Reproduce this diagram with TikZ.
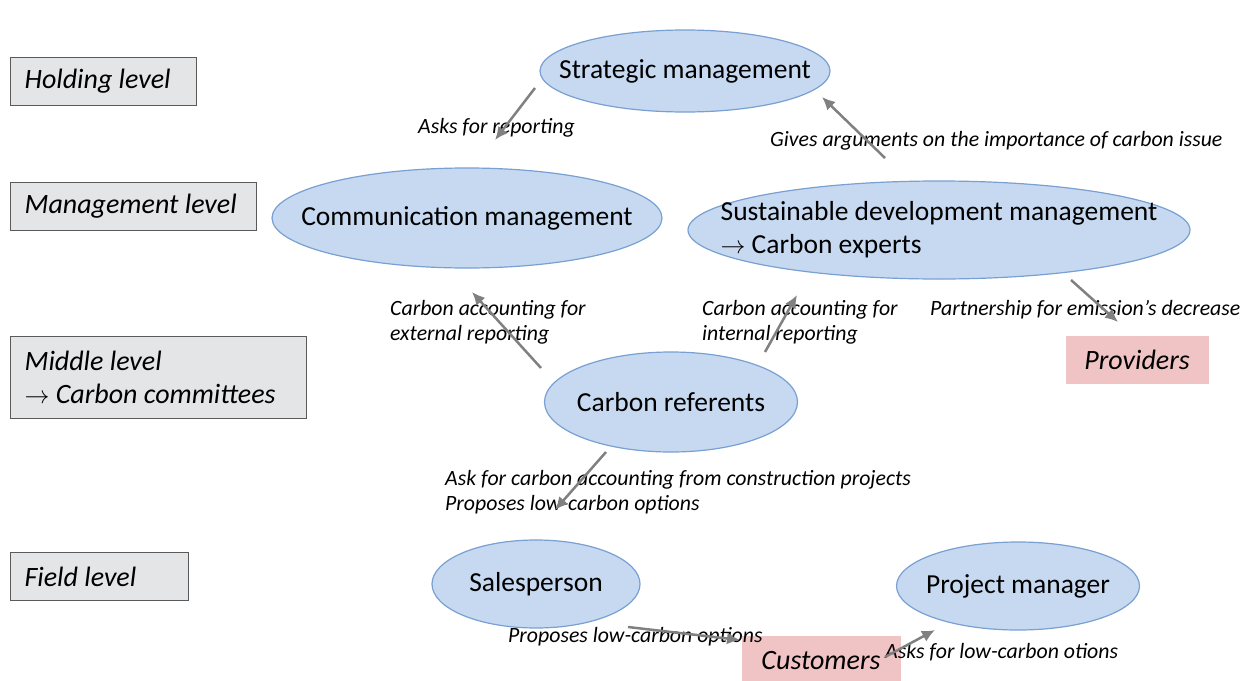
\documentclass[tikz,border=0pt]{standalone}
\usepackage{fontspec}
\setmainfont{Carlito}
\usetikzlibrary{shapes.geometric,arrows.meta}
\definecolor{ellfill}{RGB}{198,217,240}
\definecolor{elldraw}{RGB}{120,160,210}
\definecolor{levfill}{RGB}{228,229,230}
\definecolor{levdraw}{RGB}{90,90,90}
\definecolor{pinkfill}{RGB}{240,196,196}
\definecolor{arrowgray}{RGB}{128,128,128}
\begin{document}
\begin{tikzpicture}[x=1pt,y=-1pt,
    ell/.style={ellipse,draw=elldraw,fill=ellfill,line width=1.2pt,inner sep=0pt,
      label={[align=left,inner sep=0pt,font=\fontsize{27.5}{33}\selectfont]center:#1}},
    level/.style={rectangle,draw=levdraw,fill=levfill,line width=1.2pt,anchor=north west,inner xsep=14pt,inner ysep=0pt,align=left,
      execute at begin node={\spaceskip=0pt\xspaceskip=0pt},font=\fontsize{28}{33}\selectfont\itshape},
    actor/.style={rectangle,fill=pinkfill,inner sep=0pt,font=\fontsize{28}{33}\selectfont\itshape},
    lab/.style={anchor=west,inner sep=0pt,align=left,font=\fontsize{21.8}{25}\selectfont\itshape},
    flow/.style={draw=arrowgray,line width=2.5pt,-{Latex[length=13pt,width=12pt]}}]
    \useasboundingbox (0,0) rectangle (1249,680);

    % Levels
    \node[level,text width=158pt,minimum height=48pt] (hold) at (10,57) {Holding level};
    \node[level,text width=218pt,minimum height=48pt] (mgmt) at (10,182) {Management level};
    \node[level,text width=268pt,minimum height=82pt] (mid) at (10,336) {Middle level\\$\rightarrow$ Carbon committees};
    \node[level,text width=150pt,minimum height=48pt] (field) at (10,552) {Field level};

    % Actors
    \node[ell={Strategic management},minimum width=290pt,minimum height=82pt] (strat) at (685,71) {};
    \node[ell={Communication management},minimum width=390pt,minimum height=100pt] (comm) at (467,218) {};
    \node[ell={Sustainable development management\\$\rightarrow$ Carbon experts},minimum width=502pt,minimum height=98pt] (sust) at (939,230) {};
    \node[ell={Carbon referents},minimum width=253pt,minimum height=100pt] (ref) at (671,402) {};
    \node[ell={Salesperson},minimum width=208pt,minimum height=88pt] (sales) at (536,584) {};
    \node[ell={Project manager},minimum width=243pt,minimum height=88pt] (pm) at (1018,586) {};

    % Outside partners
    \node[actor,minimum width=143pt,minimum height=48pt] (prov) at (1137,360) {Providers};
    \node[actor,minimum width=159pt,minimum height=50pt] (cust) at (821,661) {Customers};

    % Labels
    \node[lab] (lReport) at (418,128) {Asks for reporting};
    \node[lab] (lArgs) at (770,141) {Gives arguments on the importance of carbon issue};
    \node[lab] (lExt) at (390,322) {Carbon accounting for\\external reporting};
    \node[lab] (lInt) at (702,322) {Carbon accounting for\\internal reporting};
    \node[lab] (lPart) at (930,310) {Partnership for emission’s decrease};
    \node[lab] (lAsk) at (445,492) {Ask for carbon accounting from construction projects\\Proposes low-carbon options};
    \node[lab] (lProp) at (508,637) {Proposes low-carbon options};
    \node[lab] (lLow) at (885,652) {Asks for low-carbon otions};

    % Arrow ends
    \coordinate (r1) at (535,88);   \coordinate (r2) at (495,140);
    \coordinate (g1) at (885,158);  \coordinate (g2) at (822,97);
    \coordinate (e1) at (541,368);  \coordinate (e2) at (472,292);
    \coordinate (i1) at (765,352);  \coordinate (i2) at (797,295);
    \coordinate (p1) at (1071,280); \coordinate (p2) at (1118,322);
    \coordinate (c1) at (606,452);  \coordinate (c2) at (555,510);
    \coordinate (s1) at (628,627);  \coordinate (s2) at (740,640);
    \coordinate (u1) at (885,657);  \coordinate (u2) at (935,630);

    % Arrows
    \draw[flow] (r1) -- (r2);
    \draw[flow] (g1) -- (g2);
    \draw[flow] (e1) -- (e2);
    \draw[flow] (i1) -- (i2);
    \draw[flow] (p1) -- (p2);
    \draw[flow] (c1) -- (c2);
    \draw[flow] (s1) -- (s2);
    \draw[flow] (u1) -- (u2);
\end{tikzpicture}
\end{document}
